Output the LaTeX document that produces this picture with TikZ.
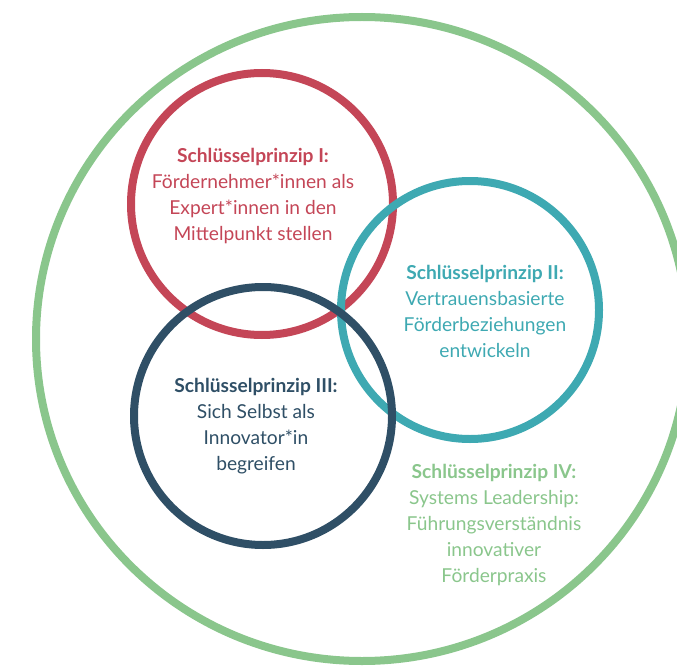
\documentclass[tikz,border=0pt]{standalone}
\usepackage{fontspec}
\setmainfont{Lato}
\definecolor{cred}{HTML}{C44657}
\definecolor{cteal}{HTML}{3EA9B2}
\definecolor{cdark}{HTML}{2F4F66}
\definecolor{cgreen}{HTML}{8AC68C}
\begin{document}
\begin{tikzpicture}[x=1pt,y=-1pt,
  ring/.style={line width=8pt},
  label/.style={align=center,font=\fontsize{19.2}{26}\selectfont,inner sep=0pt}]
\useasboundingbox (0,0) rectangle (677,666);
\draw[ring,cgreen] (362,339) ellipse [x radius=326, y radius=322];
\draw[ring,cred] (262,204) circle [radius=131];
\draw[ring,cteal] (470,310) circle [radius=129];
\draw[ring,cdark] (263,416) circle [radius=129];
\node[label,text=cred] (p1) at (253,196) {\textbf{Schlüsselprinzip I:}\\Fördernehmer*innen als\\Expert*innen in den\\Mittelpunkt stellen};
\node[label,text=cteal] (p2) at (485,311) {\textbf{Schlüsselprinzip II:}\\Vertrauensbasierte\\Förderbeziehungen\\entwickeln};
\node[label,text=cdark] (p3) at (256,426) {\textbf{Schlüsselprinzip III:}\\Sich Selbst als\\Innovator*in\\begreifen};
\node[label,text=cgreen] (p4) at (494,525) {\textbf{Schlüsselprinzip IV:}\\Systems Leadership:\\Führungsverständnis\\innovativer\\Förderpraxis};
\end{tikzpicture}
\end{document}
